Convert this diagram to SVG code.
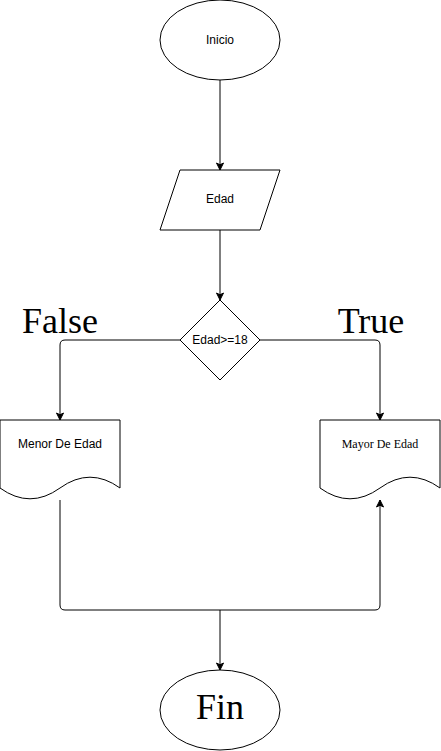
<svg xmlns="http://www.w3.org/2000/svg" width="441" height="751" viewBox="0 0 441 751">
<defs>
<style>
.shape{fill:#ffffff;stroke:#000000;stroke-width:1}
.edge{fill:none;stroke:#000000;stroke-width:1}
.sans{font-family:"Liberation Sans",Arial,sans-serif;font-size:12px;fill:#000000;text-anchor:middle}
.serif{font-family:"Liberation Serif","Times New Roman",serif;fill:#000000;text-anchor:middle}
</style>
<marker id="arrow" markerUnits="userSpaceOnUse" markerWidth="10" markerHeight="10" viewBox="0 0 10 10" refX="8" refY="5" orient="auto">
<path d="M1,1.5 L8,5 L1,8.5 L2.75,5 Z" fill="#000000" stroke="#000000" stroke-width="1"/>
</marker>
</defs>
<rect width="441" height="751" fill="#ffffff"/>
<g id="connectors">
<path class="edge" d="M220,80 L220,170" marker-end="url(#arrow)"/>
<path class="edge" d="M220,230 L220,300" marker-end="url(#arrow)"/>
<path class="edge" d="M180,340 L65,340 Q60,340 60,345 L60,420" marker-end="url(#arrow)"/>
<path class="edge" d="M260,340 L375,340 Q380,340 380,345 L380,420" marker-end="url(#arrow)"/>
<path class="edge" d="M60,500 L60,605 Q60,610 65,610 L375,610 Q380,610 380,605 L380,500" marker-end="url(#arrow)"/>
<path class="edge" d="M220,610 L220,670" marker-end="url(#arrow)"/>
<text class="serif" x="60" y="333" font-size="36">False</text>
<text class="serif" x="371" y="333" font-size="36">True</text>
</g>
<g id="inicio">
<ellipse class="shape" cx="220" cy="40" rx="60" ry="40"/>
<text class="sans" x="220" y="44">Inicio</text>
</g>
<g id="edad">
<path class="shape" d="M180,170 L280,170 L260,230 L160,230 Z"/>
<text class="sans" x="220" y="203">Edad</text>
</g>
<g id="decision">
<path class="shape" d="M220,300 L260,340 L220,380 L180,340 Z"/>
<text class="sans" x="220" y="344">Edad&gt;=18</text>
</g>
<g id="menor">
<path class="shape" d="M0,420 L120,420 L120,488 Q90,466.4 60,488 T0,488 Z"/>
<text class="sans" x="60" y="448">Menor De Edad</text>
</g>
<g id="mayor">
<path class="shape" d="M320,420 L440,420 L440,488 Q410,466.4 380,488 T320,488 Z"/>
<text class="serif" x="380" y="448" font-size="12">Mayor De Edad</text>
</g>
<g id="fin">
<ellipse class="shape" cx="220" cy="710" rx="60" ry="40"/>
<text class="serif" x="220" y="719" font-size="36">Fin</text>
</g>
</svg>
